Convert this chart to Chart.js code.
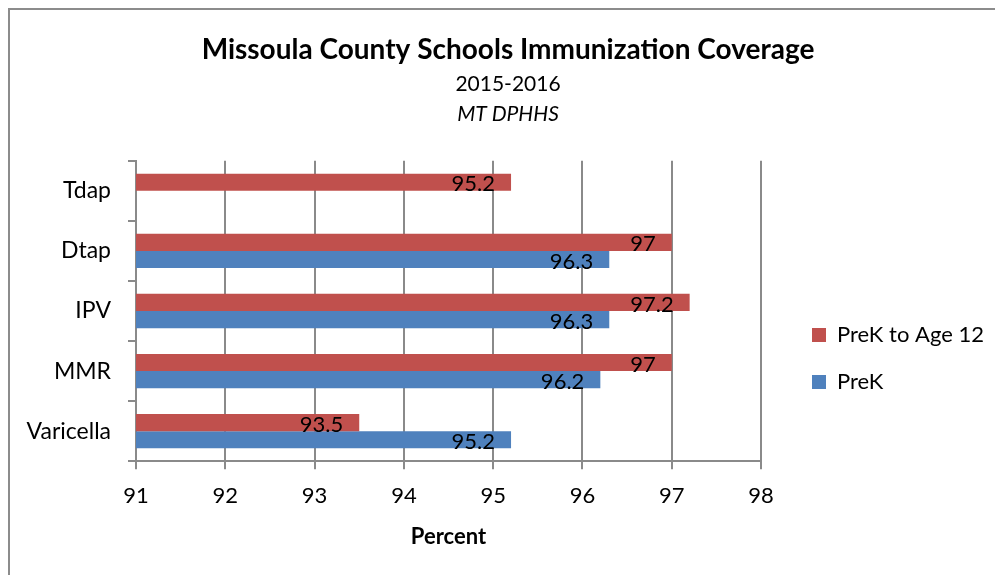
<!DOCTYPE html>
<html>
<head>
<meta charset="utf-8">
<script src="https://cdn.jsdelivr.net/npm/chart.js@4.4.0/dist/chart.umd.min.js"></script>
<style>
  html, body { margin: 0; padding: 0; background: #fff; overflow: hidden; }
  #frame { position: absolute; left: 8px; top: 8px; width: 1100px; height: 700px; border: 2px solid #8c8c8c; }
  #wrap { position: absolute; left: 0; top: 0; width: 995px; height: 575px; }
</style>
</head>
<body>
<div id="frame"></div>
<div id="wrap"><canvas id="chart" width="995" height="575"></canvas></div>
<script>
const categories = ['Tdap', 'Dtap', 'IPV', 'MMR', 'Varicella'];
const prekToAge12 = [95.2, 97, 97.2, 97, 93.5];
const prek = [null, 96.3, 96.3, 96.2, 95.2];
const xMin = 91;
const xMax = 98;

const FONT = 'Lato';
const gridGray = '#8a8a8a';

// value labels at the inside end of each bar
const barLabels = {
  id: 'barLabels',
  afterDatasetsDraw(chart) {
    const ctx = chart.ctx;
    ctx.save();
    ctx.font = '22px ' + FONT;
    ctx.fillStyle = '#000';
    ctx.textAlign = 'right';
    ctx.textBaseline = 'middle';
    chart.data.datasets.forEach((ds, i) => {
      chart.getDatasetMeta(i).data.forEach((bar, j) => {
        const v = ds.data[j];
        if (v == null) return;
        ctx.fillText(String(v), bar.x - 16, bar.y + 2);
      });
    });
    ctx.restore();
  },
  afterDraw(chart) {
    // third title line (italic source)
    const ctx = chart.ctx;
    const tb = chart.titleBlock;
    ctx.save();
    ctx.font = 'italic 21px ' + FONT;
    ctx.fillStyle = '#000';
    ctx.textAlign = 'center';
    ctx.textBaseline = 'middle';
    ctx.fillText('MT DPHHS', (tb.left + tb.right) / 2, 114);
    ctx.restore();
  }
};

// move legend and titles to where the original has them
const layoutShift = {
  id: 'layoutShift',
  afterLayout(chart) {
    const lg = chart.legend;
    const dx = 787 - lg.left;
    const dy = 82;
    lg.left += dx; lg.right += dx;
    lg.top += dy; lg.bottom += dy;
    chart.boxes.forEach(b => {
      if (b.position === 'top' && b !== lg) {
        const tdx = 508 - (b.left + b.right) / 2;
        b.left += tdx; b.right += tdx;
      }
    });
  }
};

new Chart(document.getElementById('chart'), {
  type: 'bar',
  data: {
    labels: categories,
    datasets: [
      {
        label: 'PreK to Age 12',
        data: prekToAge12,
        backgroundColor: '#C0504D',
        categoryPercentage: 0.571,
        barPercentage: 1
      },
      {
        label: 'PreK',
        data: prek,
        backgroundColor: '#4F81BD',
        categoryPercentage: 0.571,
        barPercentage: 1
      }
    ]
  },
  options: {
    indexAxis: 'y',
    responsive: false,
    animation: false,
    layout: { padding: { left: 22, right: 27, top: 0, bottom: 22 } },
    plugins: {
      title: {
        display: true,
        text: 'Missoula County Schools Immunization Coverage',
        color: '#000',
        font: { family: FONT, size: 28, weight: 'bold' },
        padding: { top: 33, bottom: 0 }
      },
      subtitle: {
        display: true,
        text: '2015-2016',
        color: '#000',
        font: { family: FONT, size: 21 },
        padding: { top: 5, bottom: 64 }
      },
      legend: {
        position: 'right',
        labels: {
          color: '#000',
          font: { family: FONT, size: 22 },
          boxWidth: 14,
          boxHeight: 14,
          padding: 25
        }
      },
      tooltip: { enabled: false }
    },
    scales: {
      x: {
        min: xMin,
        max: xMax,
        ticks: { stepSize: 1, color: '#000', font: { family: FONT, size: 22 }, padding: 14 },
        grid: { color: gridGray, lineWidth: 2, tickLength: 8, tickColor: gridGray },
        border: { color: gridGray, width: 2 },
        title: {
          display: true,
          text: 'Percent',
          color: '#000',
          font: { family: FONT, size: 22, weight: 'bold' },
          padding: { top: 0, bottom: 3 }
        }
      },
      y: {
        afterFit(scale) { scale.width = 114; },
        ticks: { color: '#000', font: { family: FONT, size: 23 }, padding: 17 },
        grid: { drawOnChartArea: false, tickLength: 8, tickColor: gridGray, lineWidth: 2 },
        border: { color: gridGray, width: 2 }
      }
    }
  },
  plugins: [barLabels, layoutShift]
});
</script>
</body>
</html>
